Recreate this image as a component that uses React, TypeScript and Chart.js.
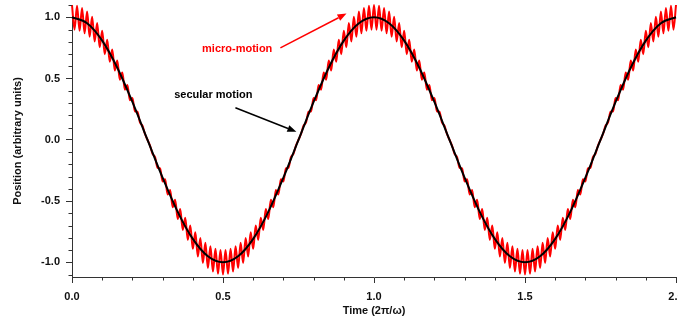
import { useEffect, useRef } from "react";
import { Chart, registerables } from "chart.js";

Chart.register(...registerables);

// Tick values
const X_MAJOR = [0, 0.5, 1, 1.5, 2];
const Y_MAJOR = [-1, -0.5, 0, 0.5, 1];
const X_MINOR = [0.1, 0.2, 0.3, 0.4, 0.6, 0.7, 0.8, 0.9, 1.1, 1.2, 1.3, 1.4, 1.6, 1.7, 1.8, 1.9];
const Y_MINOR = [-1.1, -0.9, -0.8, -0.7, -0.6, -0.4, -0.3, -0.2, -0.1, 0.1, 0.2, 0.3, 0.4, 0.6, 0.7, 0.8, 0.9, 1.1];

// Secular motion, sampled every 0.05 time units
const SECULAR_STEP = 0.05;
const SECULAR = [
  1, 0.951, 0.809, 0.588, 0.309, 0, -0.309, -0.588, -0.809, -0.951,
  -1, -0.951, -0.809, -0.588, -0.309, 0, 0.309, 0.588, 0.809, 0.951,
  1, 0.951, 0.809, 0.588, 0.309, 0, -0.309, -0.588, -0.809, -0.951,
  -1, -0.951, -0.809, -0.588, -0.309, 0, 0.309, 0.588, 0.809, 0.951,
  1,
];

// Full motion (secular + micro-motion), read at the micro-motion extremes (every 1/120 time units)
const MICRO_STEP = 1 / 120;
const MICRO = [
  1.1, 0.899, 1.094, 0.889, 1.076, 0.869, 1.046, 0.84, 1.005, 0.802,
  0.953, 0.755, 0.89, 0.699, 0.817, 0.636, 0.736, 0.566, 0.647, 0.49,
  0.55, 0.409, 0.447, 0.323, 0.34, 0.233, 0.229, 0.141, 0.115, 0.047,
  0, -0.047, -0.115, -0.141, -0.229, -0.233, -0.34, -0.323, -0.447, -0.409,
  -0.55, -0.49, -0.647, -0.566, -0.736, -0.636, -0.817, -0.699, -0.89, -0.755,
  -0.953, -0.802, -1.005, -0.84, -1.046, -0.869, -1.076, -0.889, -1.094, -0.899,
  -1.1,
  -0.899, -1.094, -0.889, -1.076, -0.869, -1.046, -0.84, -1.005, -0.802, -0.953,
  -0.755, -0.89, -0.699, -0.817, -0.636, -0.736, -0.566, -0.647, -0.49, -0.55,
  -0.409, -0.447, -0.323, -0.34, -0.233, -0.229, -0.141, -0.115, -0.047, 0,
  0.047, 0.115, 0.141, 0.229, 0.233, 0.34, 0.323, 0.447, 0.409, 0.55,
  0.49, 0.647, 0.566, 0.736, 0.636, 0.817, 0.699, 0.89, 0.755, 0.953,
  0.802, 1.005, 0.84, 1.046, 0.869, 1.076, 0.889, 1.094, 0.899, 1.1,
  0.899, 1.094, 0.889, 1.076, 0.869, 1.046, 0.84, 1.005, 0.802,
  0.953, 0.755, 0.89, 0.699, 0.817, 0.636, 0.736, 0.566, 0.647, 0.49,
  0.55, 0.409, 0.447, 0.323, 0.34, 0.233, 0.229, 0.141, 0.115, 0.047,
  0, -0.047, -0.115, -0.141, -0.229, -0.233, -0.34, -0.323, -0.447, -0.409,
  -0.55, -0.49, -0.647, -0.566, -0.736, -0.636, -0.817, -0.699, -0.89, -0.755,
  -0.953, -0.802, -1.005, -0.84, -1.046, -0.869, -1.076, -0.889, -1.094, -0.899,
  -1.1,
  -0.899, -1.094, -0.889, -1.076, -0.869, -1.046, -0.84, -1.005, -0.802, -0.953,
  -0.755, -0.89, -0.699, -0.817, -0.636, -0.736, -0.566, -0.647, -0.49, -0.55,
  -0.409, -0.447, -0.323, -0.34, -0.233, -0.229, -0.141, -0.115, -0.047, 0,
  0.047, 0.115, 0.141, 0.229, 0.233, 0.34, 0.323, 0.447, 0.409, 0.55,
  0.49, 0.647, 0.566, 0.736, 0.636, 0.817, 0.699, 0.89, 0.755, 0.953,
  0.802, 1.005, 0.84, 1.046, 0.869, 1.076, 0.889, 1.094, 0.899, 1.1,
];

// Annotations in data coordinates
const ANNOTATIONS = [
  { text: "micro-motion", color: "#ff0000", at: [0.547, 0.742], from: [0.69, 0.75], to: [0.909, 1.03] },
  { text: "secular motion", color: "#000000", at: [0.468, 0.367], from: [0.541, 0.261], to: [0.743, 0.065] },
];

const AXIS_COLOR = "#333333";
const FONT_FAMILY = "'Liberation Sans', Arial, sans-serif";

const overlay = {
  id: "overlay",
  afterDatasetsDraw(chart: any) {
    const { ctx, chartArea, scales } = chart;
    const xs = scales.x;
    const ys = scales.y;
    ctx.save();
    ctx.strokeStyle = AXIS_COLOR;
    ctx.lineWidth = 1;
    ctx.beginPath();
    for (const v of X_MINOR) {
      const px = Math.round(xs.getPixelForValue(v)) + 0.5;
      ctx.moveTo(px, chartArea.bottom);
      ctx.lineTo(px, chartArea.bottom + 3.5);
    }
    for (const v of Y_MINOR) {
      const py = Math.round(ys.getPixelForValue(v)) + 0.5;
      ctx.moveTo(chartArea.left, py);
      ctx.lineTo(chartArea.left - 3.5, py);
    }
    ctx.stroke();

    ctx.font = `bold 11px ${FONT_FAMILY}`;
    ctx.textAlign = "center";
    ctx.textBaseline = "middle";
    for (const a of ANNOTATIONS) {
      const tx = xs.getPixelForValue(a.at[0]);
      const ty = ys.getPixelForValue(a.at[1]);
      ctx.fillStyle = a.color;
      ctx.fillText(a.text, tx, ty);
      const x1 = xs.getPixelForValue(a.from[0]);
      const y1 = ys.getPixelForValue(a.from[1]);
      const x2 = xs.getPixelForValue(a.to[0]);
      const y2 = ys.getPixelForValue(a.to[1]);
      const ang = Math.atan2(y2 - y1, x2 - x1);
      const hl = 9;
      const hw = 3.5;
      const bx = x2 - hl * Math.cos(ang);
      const by = y2 - hl * Math.sin(ang);
      ctx.strokeStyle = a.color;
      ctx.lineWidth = 1.5;
      ctx.beginPath();
      ctx.moveTo(x1, y1);
      ctx.lineTo(bx, by);
      ctx.stroke();
      ctx.beginPath();
      ctx.moveTo(x2, y2);
      ctx.lineTo(bx + hw * Math.sin(ang), by - hw * Math.cos(ang));
      ctx.lineTo(bx - hw * Math.sin(ang), by + hw * Math.cos(ang));
      ctx.closePath();
      ctx.fillStyle = a.color;
      ctx.fill();
    }
    ctx.restore();
  },
};

export default function App() {
  const ref = useRef<HTMLCanvasElement | null>(null);

  useEffect(() => {
    if (!ref.current) return;
    document.body.style.margin = "0";
    const secularData = SECULAR.map((v, i) => ({ x: i * SECULAR_STEP, y: v }));
    const microData = MICRO.map((v, i) => ({ x: i * MICRO_STEP, y: v }));
    const chart = new Chart(ref.current, {
      type: "line",
      data: {
        datasets: [
          {
            label: "secular motion",
            data: secularData,
            borderColor: "#000000",
            borderWidth: 2,
            pointRadius: 0,
            cubicInterpolationMode: "monotone",
            clip: false as any,
          },
          {
            label: "micro-motion",
            data: microData,
            borderColor: "#ff0000",
            borderWidth: 2,
            pointRadius: 0,
            cubicInterpolationMode: "monotone",
            clip: false as any,
          },
        ],
      },
      options: {
        animation: false,
        responsive: false,
        events: [],
        layout: { padding: { top: 5, right: 24, left: 0, bottom: 0 } },
        plugins: { legend: { display: false }, tooltip: { enabled: false } },
        scales: {
          x: {
            type: "linear",
            min: 0,
            max: 2,
            afterBuildTicks: (s: any) => {
              s.ticks = X_MAJOR.map((v) => ({ value: v }));
            },
            afterFit: (s: any) => {
              s.height = 46;
            },
            ticks: {
              autoSkip: false,
              maxRotation: 0,
              padding: 7,
              color: "#111",
              font: { family: FONT_FAMILY, size: 11, weight: "bold" },
              callback: (v: any) => Number(v).toFixed(1),
            },
            grid: { drawOnChartArea: false, drawTicks: true, tickLength: 6, tickColor: AXIS_COLOR, tickWidth: 1 },
            border: { display: true, color: AXIS_COLOR, width: 1 },
            title: {
              display: true,
              text: "Time (2π/ω)",
              color: "#111",
              font: { family: FONT_FAMILY, size: 11, weight: "bold" },
              padding: { top: 0, bottom: 5 },
            },
          },
          y: {
            type: "linear",
            min: -1.12,
            max: 1.1,
            afterBuildTicks: (s: any) => {
              s.ticks = Y_MAJOR.map((v) => ({ value: v }));
            },
            afterFit: (s: any) => {
              s.width = 72;
              s.paddingTop = 0;
              s.paddingBottom = 0;
            },
            ticks: {
              autoSkip: false,
              padding: 6,
              color: "#111",
              font: { family: FONT_FAMILY, size: 11, weight: "bold" },
              callback: (v: any) => Number(v).toFixed(1),
            },
            grid: { drawOnChartArea: false, drawTicks: true, tickLength: 6, tickColor: AXIS_COLOR, tickWidth: 1 },
            border: { display: true, color: AXIS_COLOR, width: 1 },
            title: {
              display: true,
              text: "Position (arbitrary units)",
              color: "#111",
              font: { family: FONT_FAMILY, size: 11, weight: "bold" },
              padding: { top: 11, bottom: 0 },
            },
          },
        },
      },
      plugins: [overlay],
    });
    return () => chart.destroy();
  }, []);

  return (
    <div style={{ position: "fixed", left: 0, top: 0, width: 678, height: 323, overflow: "hidden", background: "#fff" }}>
      <canvas ref={ref} width={700} height={323} style={{ width: 700, height: 323, display: "block" }} />
    </div>
  );
}
